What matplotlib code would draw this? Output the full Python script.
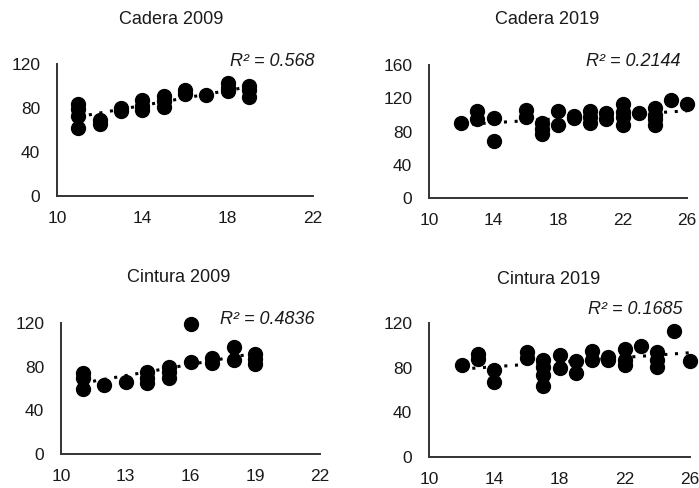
import numpy as np
import matplotlib.pyplot as plt

plt.rcParams['font.family'] = ['Liberation Sans', 'DejaVu Sans']

# Cadera 2009
cad09_x = [11, 11, 11, 11, 12, 12, 13, 13, 14, 14, 14, 15, 15, 15, 16, 16, 17, 18, 18, 18, 19, 19, 19]
cad09_y = [84, 79, 73, 62, 69, 65, 80, 77, 87, 82, 78, 91, 86, 81, 96, 93, 92, 103, 98, 95, 100, 96, 90]

# Cadera 2019
cad19_x = [12, 13, 13, 14, 14, 16, 16, 17, 17, 17, 18, 18, 19, 19, 20, 20, 20, 21, 21,
           22, 22, 22, 22, 23, 24, 24, 24, 24, 25, 26]
cad19_y = [90, 105, 95, 96, 69, 106, 98, 90, 83, 77, 105, 88, 99, 96, 105, 97, 90, 102, 95,
           113, 103, 97, 88, 102, 108, 100, 95, 88, 118, 113]

# Cintura 2009
cin09_x = [11, 11, 11, 12, 13, 14, 14, 14, 15, 15, 15, 16, 16, 17, 17, 18, 18, 19, 19, 19]
cin09_y = [74, 70, 60, 63, 66, 75, 70, 65, 80, 75, 70, 119, 84, 88, 83, 98, 86, 92, 87, 82]

# Cintura 2019
cin19_x = [12, 13, 13, 14, 14, 16, 16, 17, 17, 17, 17, 18, 18, 19, 19, 20, 20, 21, 21,
           22, 22, 22, 23, 24, 24, 24, 25, 26]
cin19_y = [82, 92, 88, 78, 67, 94, 89, 87, 81, 73, 64, 91, 80, 86, 75, 95, 87, 90, 87,
           97, 87, 82, 99, 94, 87, 81, 113, 86]

panels = [
    # title, x, y, r2 text, xticks, yticks, axes box, title pos, r2 pos (px from top-left)
    ("Cadera 2009", cad09_x, cad09_y, "R² = 0.568", [10, 14, 18, 22], [0, 40, 80, 120],
     [57, 64, 313, 196], (171, 20), (315, 62)),
    ("Cadera 2019", cad19_x, cad19_y, "R² = 0.2144", [10, 14, 18, 22, 26], [0, 40, 80, 120, 160],
     [429, 65, 687, 198], (547, 20), (681, 61)),
    ("Cintura 2009", cin09_x, cin09_y, "R² = 0.4836", [10, 13, 16, 19, 22], [0, 40, 80, 120],
     [61, 323, 320, 454], (179, 278), (314, 319)),
    ("Cintura 2019", cin19_x, cin19_y, "R² = 0.1685", [10, 14, 18, 22, 26], [0, 40, 80, 120],
     [429, 323, 690, 457], (549, 280), (683, 310)),
]

W, H = 699, 488
fig = plt.figure(figsize=(W / 100, H / 100), dpi=100)

for title, xs, ys, r2, xt, yt, box, tpos, rpos in panels:
    l, t, r, b = box
    ax = fig.add_axes([l / W, 1 - b / H, (r - l) / W, (b - t) / H])
    ax.scatter(xs, ys, s=100, color='black', zorder=3, clip_on=False)
    k, c = np.polyfit(xs, ys, 1)
    xx = np.array([min(xs), max(xs)])
    ax.plot(xx, k * xx + c, color='black', linestyle=(0, (1, 2.5)), linewidth=2.2, zorder=2)
    ax.set_xlim(xt[0], xt[-1])
    ax.set_ylim(yt[0], yt[-1])
    ax.set_xticks(xt)
    ax.set_yticks(yt)
    ax.tick_params(length=0, labelsize=12.5, colors='#1a1a1a')
    ax.tick_params(axis='y', pad=12)
    ax.tick_params(axis='x', pad=11)
    for s in ['top', 'right']:
        ax.spines[s].set_visible(False)
    for s in ['left', 'bottom']:
        ax.spines[s].set_linewidth(1.4)
        ax.spines[s].set_color('#333333')
    ax.patch.set_alpha(0)
    fig.text(tpos[0] / W, 1 - tpos[1] / H, title, ha='center', va='center', fontsize=13,
             color='#1a1a1a')
    fig.text(rpos[0] / W, 1 - rpos[1] / H, r2, ha='right', va='center', fontsize=13,
             style='italic', color='#1a1a1a')

fig.savefig('out.png', dpi=100)
